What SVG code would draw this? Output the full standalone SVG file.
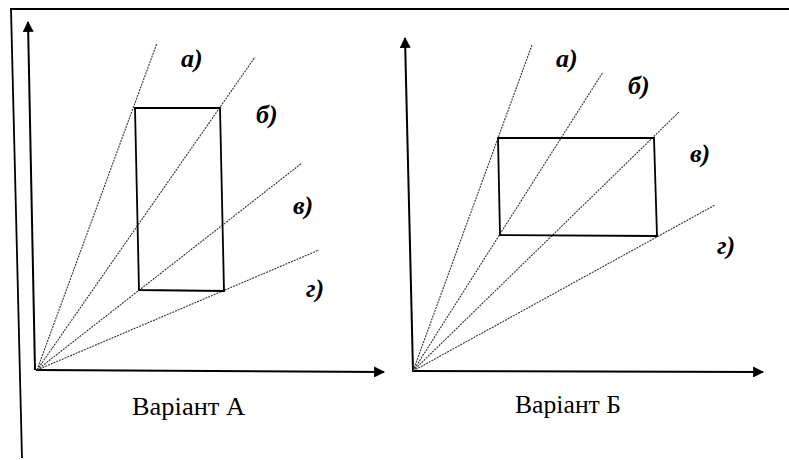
<svg xmlns="http://www.w3.org/2000/svg" width="789" height="460" viewBox="0 0 789 460">
<style>
.axis{stroke:#000;stroke-width:2;fill:none}
.ray{stroke:#333;stroke-width:1.1;stroke-dasharray:2 1;fill:none}
.rect{stroke:#000;stroke-width:1.8;fill:none}
.lbl{font-family:"Liberation Serif",serif;font-weight:bold;font-style:italic;font-size:26px;fill:#000}
.cap{font-family:"Liberation Serif",serif;font-size:26px;fill:#000}
</style>
<defs>
<marker id="arr" viewBox="0 0 10 10" refX="9" refY="5" markerWidth="6" markerHeight="5.5" orient="auto" markerUnits="strokeWidth">
<path d="M0,0 L10,5 L0,10 z" fill="#000"/>
</marker>
</defs>
<rect width="789" height="460" fill="#fff"/>
<g id="frame">
<line x1="10" y1="9" x2="789" y2="9" stroke="#000" stroke-width="1.8"/>
<line x1="11" y1="9" x2="22" y2="458" stroke="#000" stroke-width="1.8"/>
</g>
<g id="connectors">
<line class="axis" x1="35" y1="370" x2="28" y2="22" marker-end="url(#arr)"/>
<line class="axis" x1="36" y1="370" x2="384" y2="372" marker-end="url(#arr)"/>
<line class="ray" x1="37" y1="370" x2="157" y2="43"/>
<line class="ray" x1="37" y1="370" x2="255" y2="57"/>
<line class="ray" x1="37" y1="370" x2="302" y2="163"/>
<line class="ray" x1="37" y1="370" x2="319" y2="250"/>
<line class="axis" x1="413" y1="371" x2="405" y2="38" marker-end="url(#arr)"/>
<line class="axis" x1="412" y1="371" x2="763" y2="372" marker-end="url(#arr)"/>
<line class="ray" x1="413" y1="371" x2="532" y2="45"/>
<line class="ray" x1="413" y1="371" x2="603" y2="72"/>
<line class="ray" x1="413" y1="371" x2="679" y2="112"/>
<line class="ray" x1="413" y1="371" x2="715" y2="205"/>
</g>
<g id="rectA">
<path class="rect" d="M135,108 L220,108 L224,291 L139,290 Z"/>
</g>
<g id="rectB">
<path class="rect" d="M498,138 L654,138 L657,236 L500,235 Z"/>
</g>
<g id="labelsA">
<text class="lbl" x="181" y="67">а)</text>
<text class="lbl" x="256" y="123">б)</text>
<text class="lbl" x="293" y="214">в)</text>
<text class="lbl" x="306" y="297">г)</text>
</g>
<g id="labelsB">
<text class="lbl" x="556" y="67">а)</text>
<text class="lbl" x="628" y="94">б)</text>
<text class="lbl" x="690" y="162">в)</text>
<text class="lbl" x="717" y="254">г)</text>
</g>
<g id="captions">
<text class="cap" x="132" y="415" textLength="113" lengthAdjust="spacingAndGlyphs">Варіант А</text>
<text class="cap" x="515" y="413" textLength="106" lengthAdjust="spacingAndGlyphs">Варіант Б</text>
</g>
</svg>
